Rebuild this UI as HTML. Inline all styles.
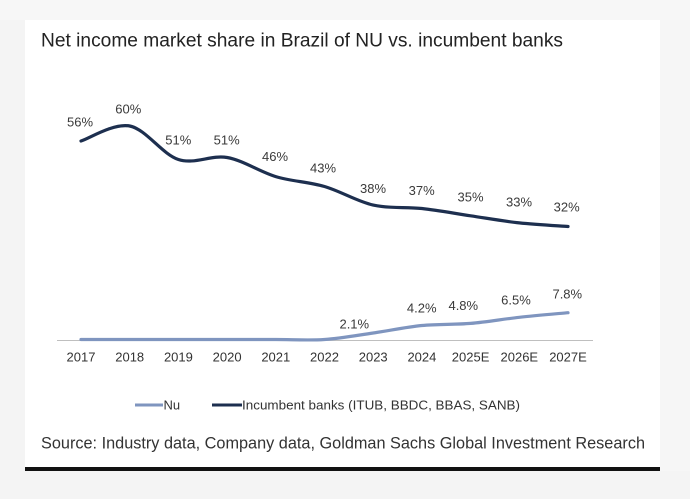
<!DOCTYPE html>
<html>
<head>
<meta charset="utf-8">
<style>
  html, body { margin:0; padding:0; background:#f4f4f4; }
  body { width:690px; height:499px; overflow:hidden; }
  svg { display:block; }
</style>
</head>
<body>
<svg width="690" height="499" viewBox="0 0 690 499" xmlns="http://www.w3.org/2000/svg">
  <rect x="0" y="0" width="690" height="499" fill="#f4f4f4"/>
  <rect x="0" y="0" width="690" height="20" fill="#f7f7f7"/>
  <rect x="660" y="20" width="30" height="451" fill="#f6f6f6"/>
  <rect x="25" y="20" width="635" height="448" fill="#ffffff"/>
  <rect x="25" y="467" width="635" height="4" fill="#111111"/>

  <!-- Title -->
  <text x="41" y="46.5" font-family="Liberation Sans, DejaVu Sans, sans-serif" font-size="19" fill="#222222" textLength="522" lengthAdjust="spacingAndGlyphs">Net income market share in Brazil of NU vs. incumbent banks</text>

  <!-- Axis -->
  <line x1="57" y1="340.5" x2="593" y2="340.5" stroke="#bfbfbf" stroke-width="1"/>

  <!-- Incumbent line -->
  <path d="M81,141 C89.1,138.5 113.5,122.9 129.7,126 C145.9,129.1 162.2,154.25 178.4,159.5 C194.6,164.75 210.9,154.65 227.1,157.5 C243.3,160.35 259.6,171.77 275.8,176.6 C292,181.43 308.3,181.75 324.5,186.5 C340.7,191.25 357,201.43 373.2,205.1 C389.4,208.77 405.7,206.72 421.9,208.5 C438.1,210.28 454.4,213.4 470.6,215.8 C486.8,218.2 503.1,221.12 519.3,222.9 C535.5,224.68 559.9,225.9 568,226.5" fill="none" stroke="#1d2f4f" stroke-width="3.2" stroke-linecap="round" stroke-linejoin="round"/>

  <!-- Nu line -->
  <path d="M81,339.5 L275.8,339.5 C292,339.5 308.3,340.58 324.5,339.5 C340.7,338.42 357,335.33 373.2,333 C389.4,330.67 405.7,327.1 421.9,325.5 C438.1,323.9 454.4,324.77 470.6,323.4 C486.8,322.03 503.1,319.08 519.3,317.3 C535.5,315.52 559.9,313.47 568,312.7" fill="none" stroke="#7f95bf" stroke-width="3.2" stroke-linecap="round" stroke-linejoin="round"/>

  <!-- Incumbent labels -->
  <g font-family="Liberation Sans, Arial, sans-serif" font-size="13" fill="#3a3a3a" text-anchor="middle">
    <text x="80" y="126.5">56%</text>
    <text x="128.3" y="113.3">60%</text>
    <text x="178.3" y="144.3">51%</text>
    <text x="226.7" y="144.3">51%</text>
    <text x="275" y="161">46%</text>
    <text x="323" y="172.7">43%</text>
    <text x="373" y="193">38%</text>
    <text x="421.7" y="195">37%</text>
    <text x="470.5" y="201.5">35%</text>
    <text x="519" y="206.7">33%</text>
    <text x="566.7" y="211.7">32%</text>
  </g>

  <!-- Nu labels -->
  <g font-family="Liberation Sans, Arial, sans-serif" font-size="13" fill="#3a3a3a" text-anchor="middle">
    <text x="354.3" y="328.3">2.1%</text>
    <text x="421.7" y="312.3">4.2%</text>
    <text x="463.3" y="310">4.8%</text>
    <text x="516" y="304.3">6.5%</text>
    <text x="567.3" y="298.3">7.8%</text>
  </g>

  <!-- Year labels -->
  <g font-family="Liberation Sans, Arial, sans-serif" font-size="13" fill="#333333" text-anchor="middle">
    <text x="81" y="361.5">2017</text>
    <text x="129.7" y="361.5">2018</text>
    <text x="178.4" y="361.5">2019</text>
    <text x="227.1" y="361.5">2020</text>
    <text x="275.8" y="361.5">2021</text>
    <text x="324.5" y="361.5">2022</text>
    <text x="373.2" y="361.5">2023</text>
    <text x="421.9" y="361.5">2024</text>
    <text x="470.6" y="361.5">2025E</text>
    <text x="519.3" y="361.5">2026E</text>
    <text x="568" y="361.5">2027E</text>
  </g>

  <!-- Legend -->
  <line x1="135" y1="405" x2="163" y2="405" stroke="#7f95bf" stroke-width="3"/>
  <text x="163.5" y="409.5" font-family="Liberation Sans, Arial, sans-serif" font-size="13" fill="#333333">Nu</text>
  <line x1="212" y1="405" x2="242" y2="405" stroke="#1d2f4f" stroke-width="3"/>
  <text x="242" y="409.5" font-family="Liberation Sans, Arial, sans-serif" font-size="13" fill="#333333" textLength="278" lengthAdjust="spacingAndGlyphs">Incumbent banks (ITUB, BBDC, BBAS, SANB)</text>

  <!-- Source -->
  <text x="41" y="448.5" font-family="Liberation Sans, DejaVu Sans, sans-serif" font-size="17" fill="#333333" textLength="604" lengthAdjust="spacingAndGlyphs">Source: Industry data, Company data, Goldman Sachs Global Investment Research</text>
</svg>
</body>
</html>
